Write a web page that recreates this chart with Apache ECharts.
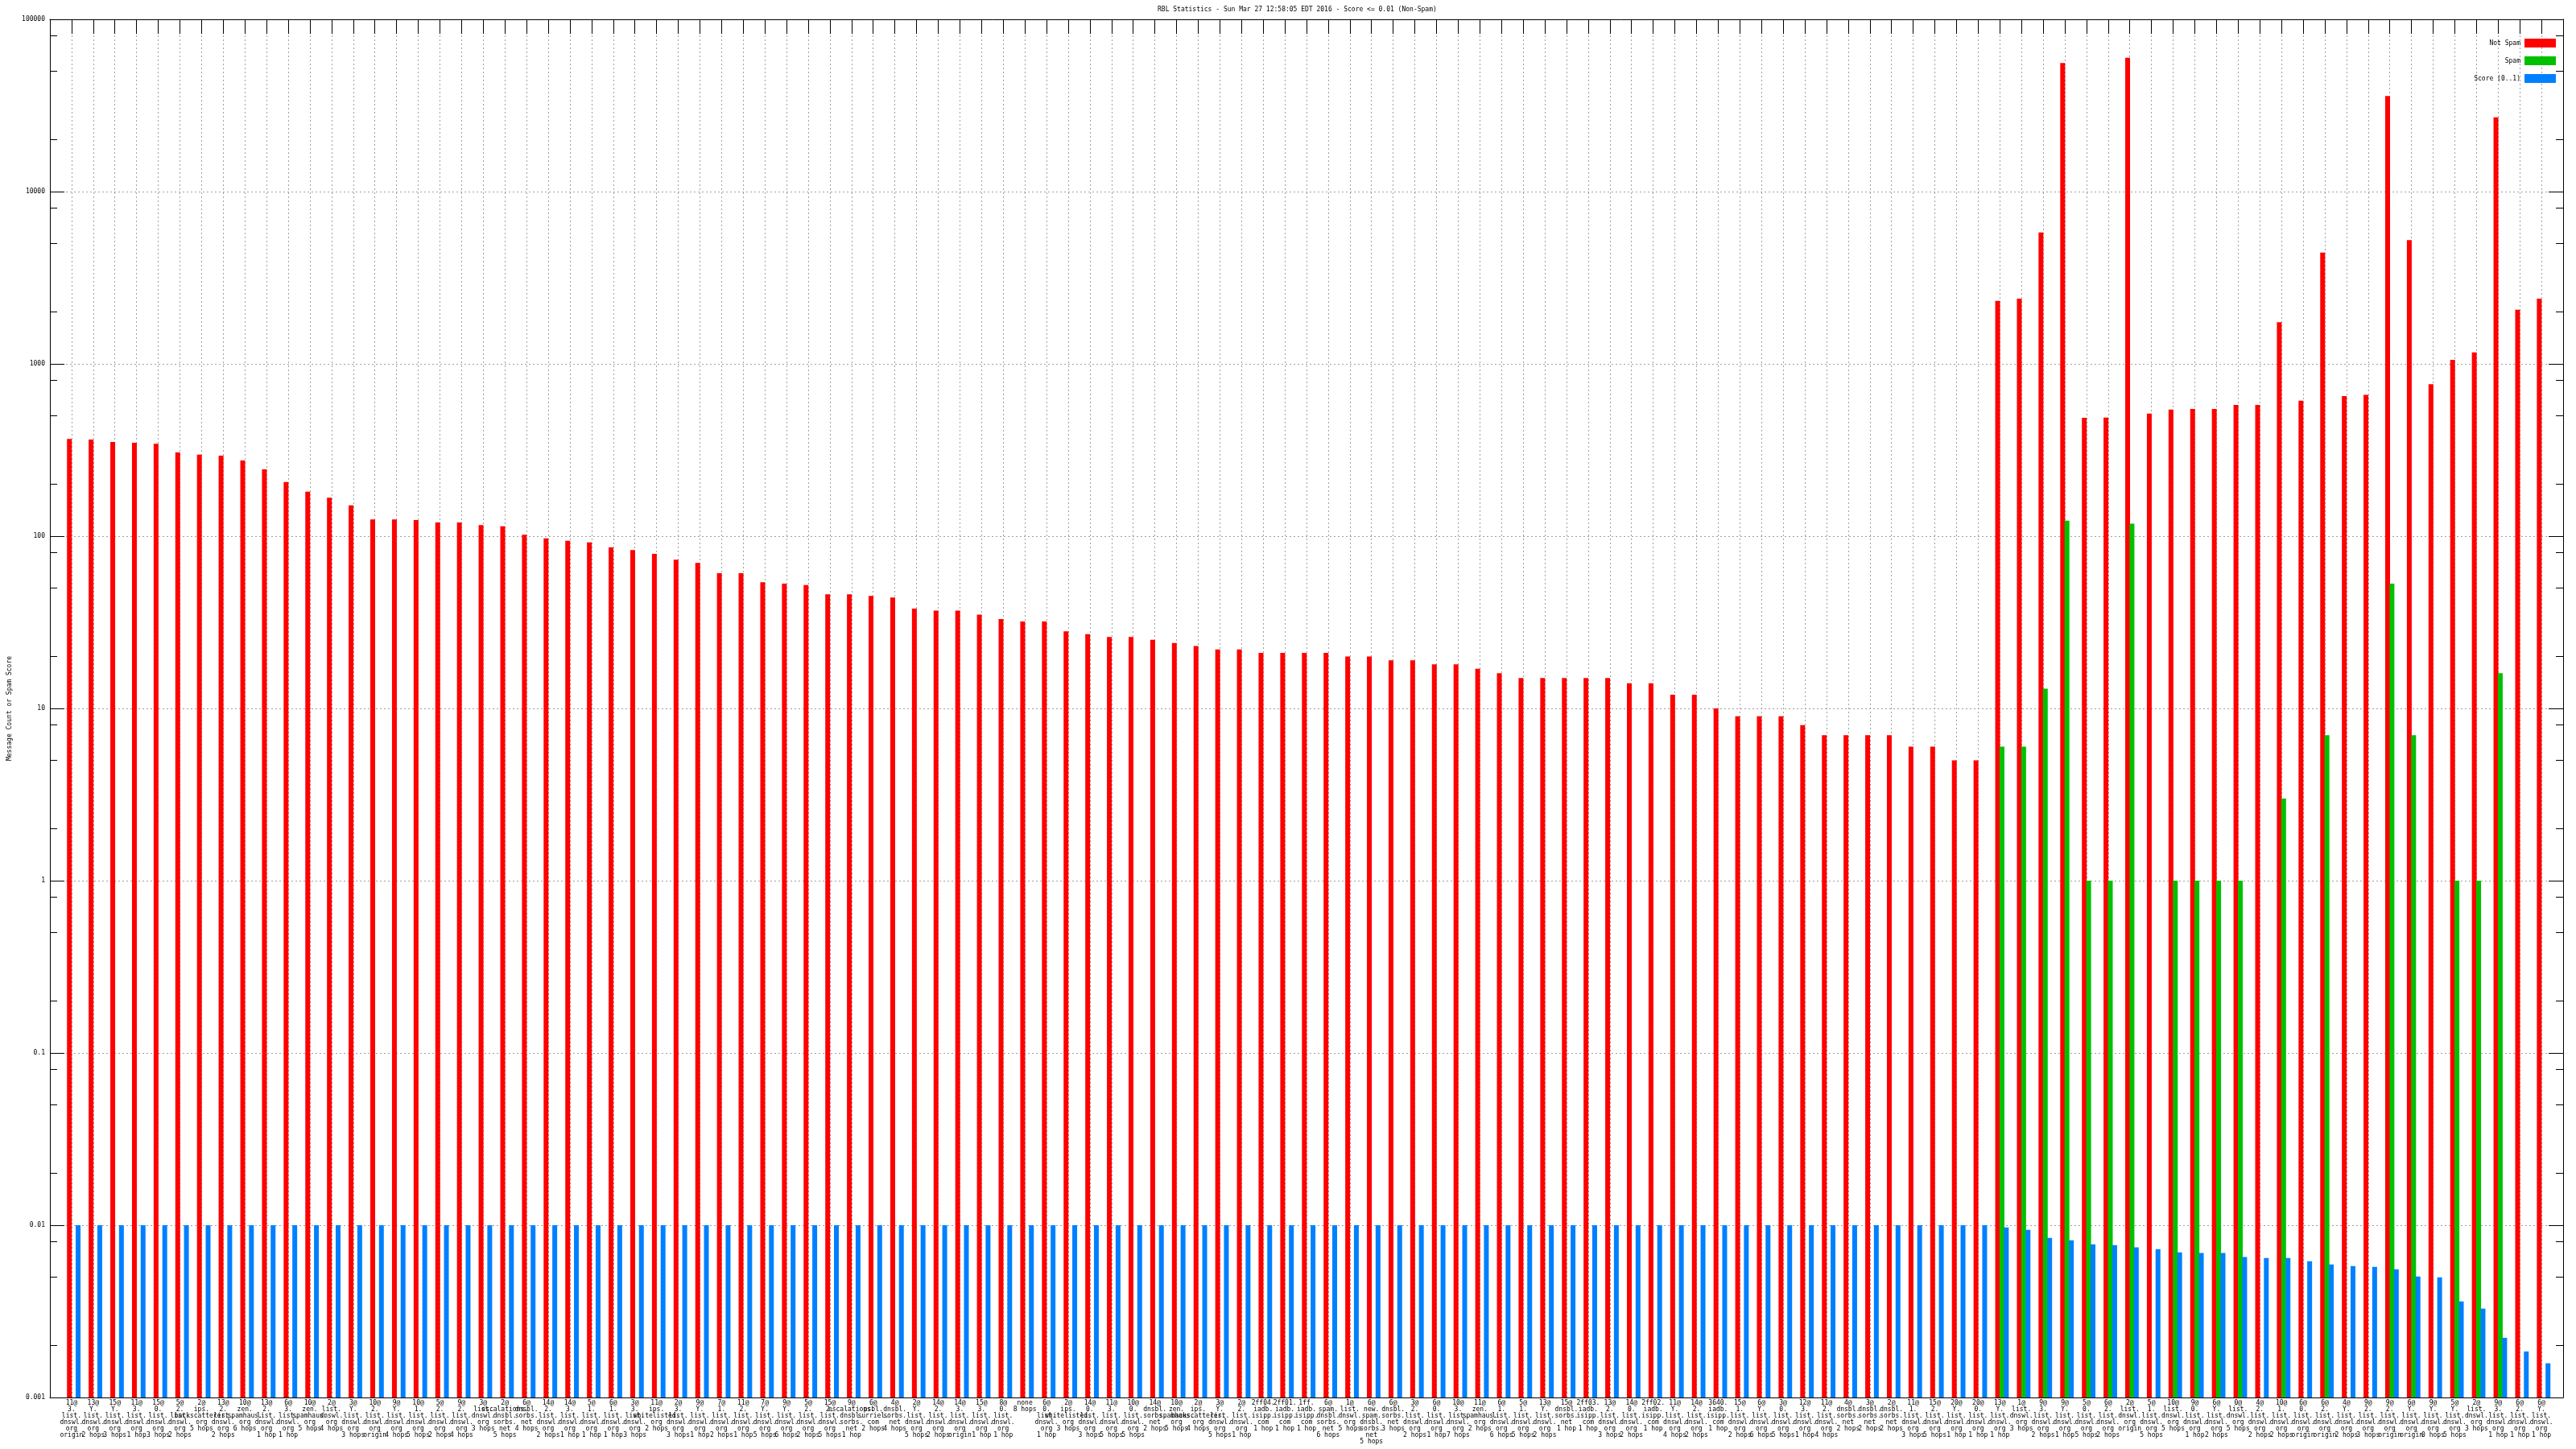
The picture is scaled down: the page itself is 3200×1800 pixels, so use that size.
<!DOCTYPE html>
<html><head><meta charset="utf-8">
<script src="https://cdn.jsdelivr.net/npm/echarts@6/dist/echarts.min.js"></script>
<style>html,body{margin:0;padding:0;background:#fff}#c{width:3200px;height:1800px}</style>
</head><body><div id="c"></div>
<script>
const labels = [
'11@|3.|list.|dnswl.|org|origin','13@|Y.|list.|dnswl.|org|2 hops','15@|Y.|list.|dnswl.|org|3 hops','11@|3.|list.|dnswl.|org|1 hop','15@|0.|list.|dnswl.|org|3 hops',
'5@|2.|list.|dnswl.|org|2 hops','2@|ips.|backscatterer.|org|5 hops','13@|2.|list.|dnswl.|org|2 hops','10@|zen.|spamhaus.|org|6 hops','13@|2.|list.|dnswl.|org|1 hop',
'6@|3.|list.|dnswl.|org|1 hop','10@|zen.|spamhaus.|org|5 hops','2@|list.|dnswl.|org|4 hops','3@|Y.|list.|dnswl.|org|3 hops','10@|2.|list.|dnswl.|org|origin',
'9@|Y.|list.|dnswl.|org|4 hops','10@|1.|list.|dnswl.|org|5 hops','5@|2.|list.|dnswl.|org|2 hops','9@|2.|list.|dnswl.|org|4 hops','3@|list.|dnswl.|org|3 hops',
'2@|escalations.|dnsbl.|sorbs.|net|5 hops','6@|dnsbl.|sorbs.|net|4 hops','14@|2.|list.|dnswl.|org|2 hops','14@|3.|list.|dnswl.|org|1 hop','5@|1.|list.|dnswl.|org|1 hop',
'6@|1.|list.|dnswl.|org|1 hop','3@|3.|list.|dnswl.|org|3 hops','11@|ips.|whitelisted.|org|2 hops','2@|3.|list.|dnswl.|org|3 hops','9@|Y.|list.|dnswl.|org|1 hop',
'7@|1.|list.|dnswl.|org|2 hops','11@|2.|list.|dnswl.|org|1 hop','7@|Y.|list.|dnswl.|org|5 hops','9@|Y.|list.|dnswl.|org|6 hops','5@|2.|list.|dnswl.|org|2 hops',
'15@|2.|list.|dnswl.|org|5 hops','9@|escalations.|dnsbl.|sorbs.|net|1 hop','6@|psbl.|surriel.|com|2 hops','4@|dnsbl.|sorbs.|net|4 hops','2@|Y.|list.|dnswl.|org|5 hops',
'14@|2.|list.|dnswl.|org|2 hops','14@|3.|list.|dnswl.|org|origin','15@|3.|list.|dnswl.|org|1 hop','8@|0.|list.|dnswl.|org|1 hop','none|8 hops',
'6@|0.|list.|dnswl.|org|1 hop','2@|ips.|whitelisted.|org|3 hops','14@|0.|list.|dnswl.|org|3 hops','11@|3.|list.|dnswl.|org|5 hops','10@|0.|list.|dnswl.|org|5 hops',
'14@|dnsbl.|sorbs.|net|2 hops','10@|zen.|spamhaus.|org|5 hops','2@|ips.|backscatterer.|org|4 hops','3@|Y.|list.|dnswl.|org|5 hops','2@|2.|list.|dnswl.|org|1 hop',
'2ff04.|iadb.|isipp.|com|1 hop','2ff01.|iadb.|isipp.|com|1 hop','1ff.|iadb.|isipp.|com|1 hop','6@|spam.|dnsbl.|sorbs.|net|6 hops','1@|list.|dnswl.|org|5 hops',
'6@|new.|spam.|dnsbl.|sorbs.|net|5 hops','6@|dnsbl.|sorbs.|net|3 hops','3@|2.|list.|dnswl.|org|2 hops','6@|0.|list.|dnswl.|org|1 hop','10@|3.|list.|dnswl.|org|7 hops',
'11@|zen.|spamhaus.|org|2 hops','6@|1.|list.|dnswl.|org|6 hops','5@|1.|list.|dnswl.|org|5 hops','13@|Y.|list.|dnswl.|org|2 hops','15@|dnsbl.|sorbs.|net|1 hop',
'2ff03.|iadb.|isipp.|com|1 hop','13@|2.|list.|dnswl.|org|3 hops','14@|0.|list.|dnswl.|org|2 hops','2ff02.|iadb.|isipp.|com|1 hop','11@|Y.|list.|dnswl.|org|4 hops',
'14@|2.|list.|dnswl.|org|2 hops','3640.|iadb.|isipp.|com|1 hop','15@|1.|list.|dnswl.|org|2 hops','6@|Y.|list.|dnswl.|org|6 hops','3@|0.|list.|dnswl.|org|5 hops',
'12@|3.|list.|dnswl.|org|1 hop','11@|2.|list.|dnswl.|org|4 hops','4@|dnsbl.|sorbs.|net|2 hops','3@|dnsbl.|sorbs.|net|2 hops','2@|dnsbl.|sorbs.|net|2 hops',
'11@|1.|list.|dnswl.|org|3 hops','15@|2.|list.|dnswl.|org|5 hops','20@|Y.|list.|dnswl.|org|1 hop','20@|0.|list.|dnswl.|org|1 hop','13@|Y.|list.|dnswl.|org|1 hop',
'1@|list.|dnswl.|org|3 hops','9@|3.|list.|dnswl.|org|2 hops','9@|Y.|list.|dnswl.|org|1 hop','5@|0.|list.|dnswl.|org|5 hops','6@|2.|list.|dnswl.|org|2 hops',
'2@|list.|dnswl.|org|origin','5@|1.|list.|dnswl.|org|5 hops','10@|list.|dnswl.|org|5 hops','9@|0.|list.|dnswl.|org|1 hop','6@|Y.|list.|dnswl.|org|2 hops',
'0@|list.|dnswl.|org|5 hops','4@|2.|list.|dnswl.|org|2 hops','10@|1.|list.|dnswl.|org|2 hops','6@|0.|list.|dnswl.|org|origin','6@|2.|list.|dnswl.|org|origin',
'4@|Y.|list.|dnswl.|org|2 hops','9@|2.|list.|dnswl.|org|3 hops','9@|2.|list.|dnswl.|org|origin','6@|Y.|list.|dnswl.|org|origin','9@|Y.|list.|dnswl.|org|0 hops',
'5@|Y.|list.|dnswl.|org|5 hops','2@|list.|dnswl.|org|3 hops','9@|3.|list.|dnswl.|org|1 hop','6@|2.|list.|dnswl.|org|1 hop','6@|Y.|list.|dnswl.|org|1 hop'
];
const notSpam = [
367,364,352,348,344,306,297,293,275,244,
206,181,167,151,125,125,124,120,120,116,
114,102,97,94,92,86,83,79,73,70,
61,61,54,53,52,46,46,45,44,38,
37,37,35,33,32,32,28,27,26,26,
25,24,23,22,22,21,21,21,21,20,
20,19,19,18,18,17,16,15,15,15,
15,15,14,14,12,12,10,9,9,9,
8,7,7,7,7,6,6,5,5,2318,
2393,5795,55800,486,488,59900,514,543,547,547,
578,578,1746,611,4430,651,661,35850,5230,762,
1054,1167,27000,2060,2393
];
const spam = [
null,null,null,null,null,null,null,null,null,null,
null,null,null,null,null,null,null,null,null,null,
null,null,null,null,null,null,null,null,null,null,
null,null,null,null,null,null,null,null,null,null,
null,null,null,null,null,null,null,null,null,null,
null,null,null,null,null,null,null,null,null,null,
null,null,null,null,null,null,null,null,null,null,
null,null,null,null,null,null,null,null,null,null,
null,null,null,null,null,null,null,null,null,6,
6,13,123,1,1,118,null,1,1,1,
1,null,3,null,7,null,null,53,7,null,
1,1,16,null,null
];
const score = [
0.01,0.01,0.01,0.01,0.01,0.01,0.01,0.01,0.01,0.01,
0.01,0.01,0.01,0.01,0.01,0.01,0.01,0.01,0.01,0.01,
0.01,0.01,0.01,0.01,0.01,0.01,0.01,0.01,0.01,0.01,
0.01,0.01,0.01,0.01,0.01,0.01,0.01,0.01,0.01,0.01,
0.01,0.01,0.01,0.01,0.01,0.01,0.01,0.01,0.01,0.01,
0.01,0.01,0.01,0.01,0.01,0.01,0.01,0.01,0.01,0.01,
0.01,0.01,0.01,0.01,0.01,0.01,0.01,0.01,0.01,0.01,
0.01,0.01,0.01,0.01,0.01,0.01,0.01,0.01,0.01,0.01,
0.01,0.01,0.01,0.01,0.01,0.01,0.01,0.01,0.01,0.00972,
0.00941,0.00845,0.00818,0.00775,0.00767,0.00743,0.00727,0.00696,0.00689,0.00689,
0.00653,0.00645,0.00645,0.00618,0.00592,0.0058,0.00573,0.00555,0.00504,0.00498,
0.00361,0.00328,0.00222,0.00185,0.00158
];
const yMinorTicks = [0.002,0.005,0.008,0.02,0.05,0.08,0.2,0.5,0.8,2,5,8,20,50,80,200,500,800,2000,5000,8000,20000,50000,80000];
const seriesNames = ['Not Spam','Spam','Score (0..1)'];
const seriesColors = ['#ff0000','#00c000','#0080ff'];

const FONT = 'DejaVu Sans Mono';
const cats = [''].concat(labels, ['']);
const pad = a => [null].concat(a, [null]);
const dash = {color:'#a0a0a0', type:[2,3], width:1};
const BW = 6, GAP = '-10%';
const off = () => ({show:false});

const chart = echarts.init(document.getElementById('c'), null, {renderer:'canvas'});
const yBase = () => ({type:'log', logBase:10, min:0.001, max:100000, interval:1, gridIndex:0,
  minorTick:off(), minorSplitLine:off()});
chart.setOption({
  animation:false,
  backgroundColor:'#fff',
  title:{text:'RBL Statistics - Sun Mar 27 12:58:05 EDT 2016 - Score <= 0.01 (Non-Spam)',
    left:1438, top:8, padding:0,
    textStyle:{fontFamily:FONT, fontSize:8, fontWeight:'normal', color:'#000'}},
  legend:{data:seriesNames, orient:'vertical', right:25, top:48, padding:0, align:'right',
    itemWidth:39, itemHeight:11, itemGap:11, icon:'rect',
    textStyle:{fontFamily:FONT, fontSize:8, color:'#000'}},
  grid:{left:56, right:16, top:24, bottom:64, containLabel:false},
  xAxis:[
    {type:'category', data:cats, boundaryGap:false, position:'bottom',
     axisLine:{lineStyle:{color:'#000', width:1}}, axisTick:off(),
     minorTick:off(), minorSplitLine:off(),
     splitLine:{show:true, interval:0, lineStyle:dash},
     axisLabel:{interval:0, margin:3, fontFamily:FONT, fontSize:8, lineHeight:8, color:'#000',
       formatter: v => v.split('|').join('\n')}},
    {type:'category', data:cats, boundaryGap:false, position:'top',
     axisLine:{lineStyle:{color:'#000', width:1}},
     axisTick:{show:true, inside:true, length:18, interval:0, lineStyle:{color:'#000'}},
     axisLabel:off(), splitLine:off()}
  ],
  yAxis:[
    Object.assign(yBase(), {position:'left', startValue:0.001,
      name:'Message Count or Spam Score', nameLocation:'middle', nameGap:46,
      nameTextStyle:{fontFamily:FONT, fontSize:8, color:'#000'},
      axisLine:{show:true, lineStyle:{color:'#000', width:1}},
      axisTick:{show:true, inside:true, length:18, lineStyle:{color:'#000'}},
      splitLine:{show:true, lineStyle:dash},
      axisLabel:{margin:6, fontFamily:FONT, fontSize:8, color:'#000',
        formatter: v => String(+(+v).toPrecision(3))}}),
    Object.assign(yBase(), {position:'left',
      axisLine:off(), axisLabel:off(), splitLine:off(),
      axisTick:{show:true, inside:true, length:9, customValues:yMinorTicks, lineStyle:{color:'#000'}}}),
    Object.assign(yBase(), {position:'right',
      axisLine:{show:true, lineStyle:{color:'#000', width:1}}, axisLabel:off(), splitLine:off(),
      axisTick:{show:true, inside:true, length:18, lineStyle:{color:'#000'}}}),
    Object.assign(yBase(), {position:'right',
      axisLine:off(), axisLabel:off(), splitLine:off(),
      axisTick:{show:true, inside:true, length:9, customValues:yMinorTicks, lineStyle:{color:'#000'}}})
  ],
  series:[
    {name:'_spacer', type:'bar', data:[], barWidth:BW, barGap:GAP, silent:true, itemStyle:{color:'rgba(0,0,0,0)'}},
    {name:seriesNames[0], type:'bar', data:pad(notSpam), barWidth:BW, barGap:GAP, itemStyle:{color:seriesColors[0]}},
    {name:seriesNames[1], type:'bar', data:pad(spam), barWidth:BW, barGap:GAP, itemStyle:{color:seriesColors[1]}},
    {name:seriesNames[2], type:'bar', data:pad(score), barWidth:BW, barGap:GAP, itemStyle:{color:seriesColors[2]}}
  ]
});
</script>
</body></html>
